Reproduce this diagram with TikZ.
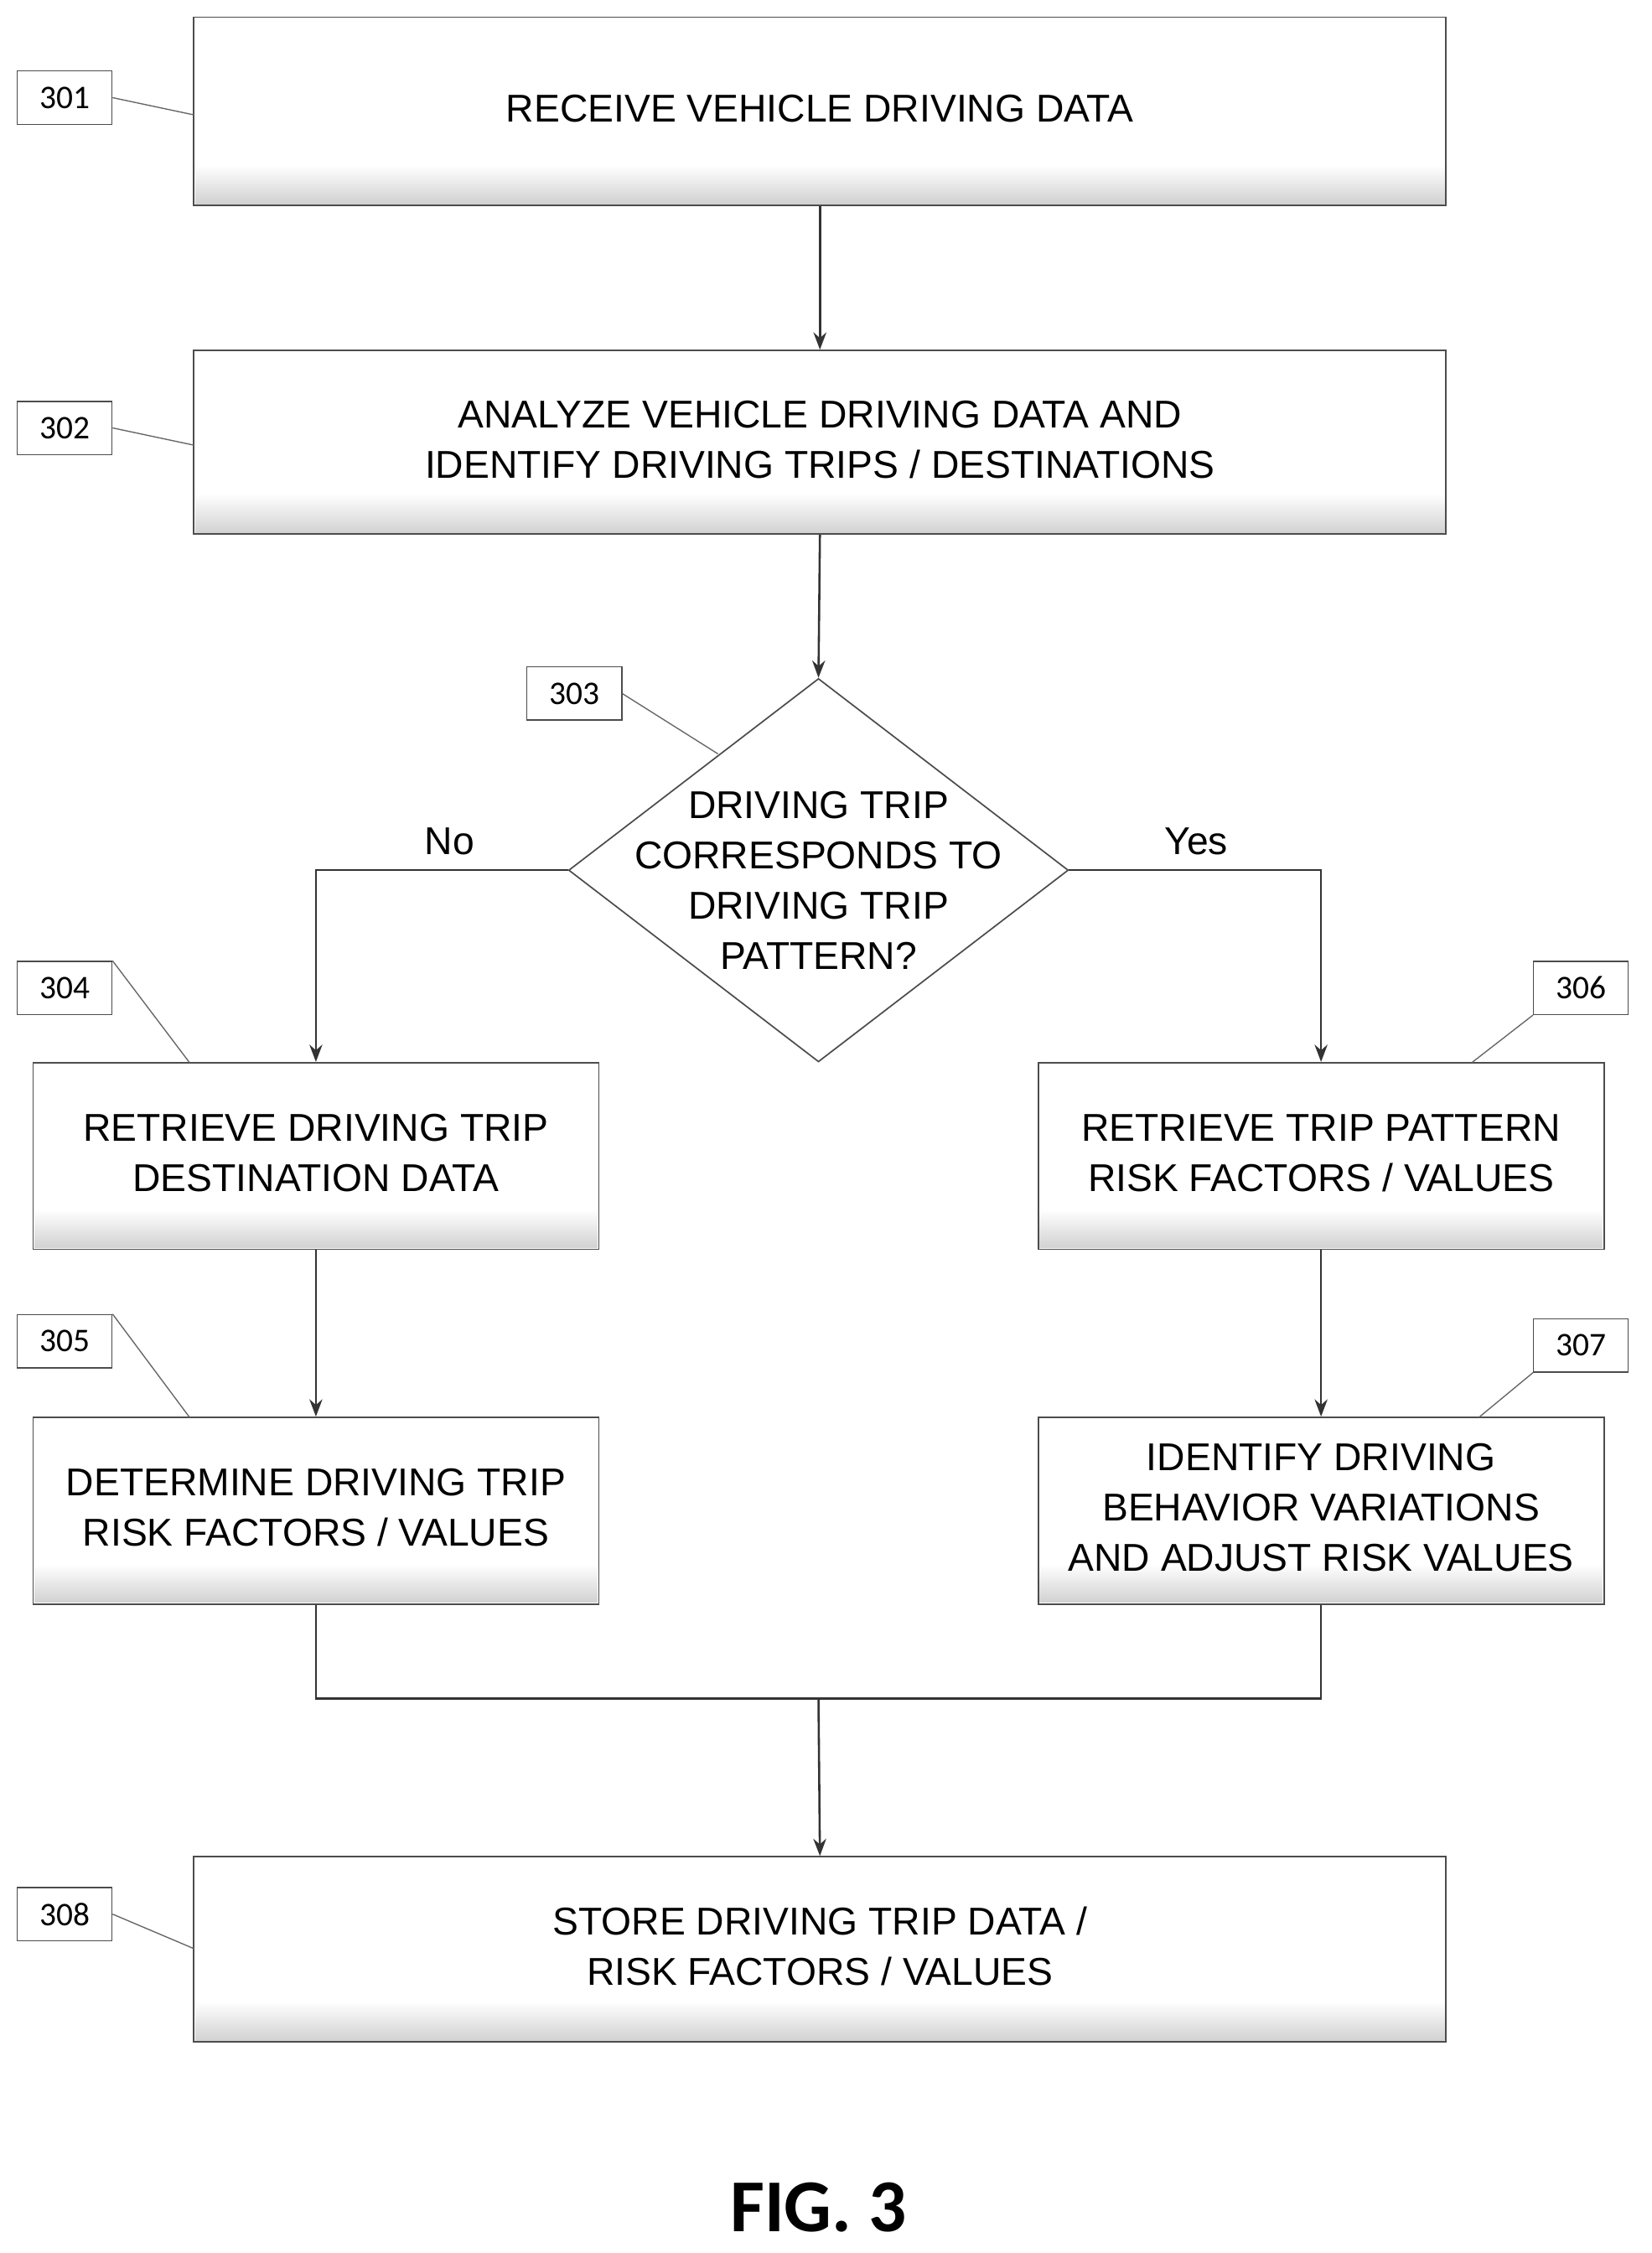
\documentclass[tikz,border=0pt]{standalone}
\usepackage{fontspec}
\setmainfont{Liberation Sans}
\newfontfamily\lab{Carlito}
\usetikzlibrary{shapes.geometric,arrows.meta}
\begin{document}
\begin{tikzpicture}[x=1pt,y=-1pt,
  box/.style={draw=black!70,line width=1pt,fill=white,align=center,font=\fontsize{27}{35}\selectfont,inner sep=0pt},
  lbl/.style={draw=black!70,line width=0.8pt,fill=white,minimum width=66pt,minimum height=37pt,inner sep=0pt,font=\lab\fontsize{23}{26}\selectfont},
  lead/.style={draw=black!60,line width=0.8pt},
  arr/.style={draw=black!80,line width=1.5pt,-{Stealth[length=12pt,width=9pt]}},
  ln/.style={draw=black!80,line width=1.5pt}]
\useasboundingbox (0,0) rectangle (1150,1569);
\newcommand{\mybox}[6]{% name x1 y1 x2 y2 text
  \node[box,minimum width=#4-#2,minimum height=#5-#3] (#1) at ({(#2+#4)/2},{(#3+#5)/2}) {};
  \shade[top color=white,bottom color=black!18] (#2+1,#5-28) rectangle (#4-1,#5-1);
  \node[align=center,font=\fontsize{27}{35}\selectfont] at ({(#2+#4)/2},{(#3+#5)/2-2}) {#6};}
\mybox{b1}{135}{12}{1007}{143}{RECEIVE VEHICLE DRIVING DATA}
\mybox{b2}{135}{244}{1007}{372}{ANALYZE VEHICLE DRIVING DATA AND\\IDENTIFY DRIVING TRIPS / DESTINATIONS}
\mybox{b4}{23}{740}{417}{870}{RETRIEVE DRIVING TRIP\\DESTINATION DATA}
\mybox{b6}{723}{740}{1117}{870}{RETRIEVE TRIP PATTERN\\RISK FACTORS / VALUES}
\mybox{b5}{23}{987}{417}{1117}{DETERMINE DRIVING TRIP\\RISK FACTORS / VALUES}
\mybox{b7}{723}{987}{1117}{1117}{IDENTIFY DRIVING\\BEHAVIOR VARIATIONS\\AND ADJUST RISK VALUES}
\mybox{b8}{135}{1293}{1007}{1422}{STORE DRIVING TRIP DATA /\\RISK FACTORS / VALUES}
\node[diamond,draw=black!70,line width=1pt,aspect=1.3,minimum width=348pt,minimum height=267pt,inner sep=0pt] (d) at (570,606) {};
\node[align=center,font=\fontsize{27}{35}\selectfont] at (570,613) {DRIVING TRIP\\CORRESPONDS TO\\DRIVING TRIP\\PATTERN?};
\draw[arr] (b1.south) -- (b2.north);
\draw[arr] (b2.south) -- (d.north);
\draw[arr] (d.west) -| (b4.north);
\draw[arr] (d.east) -| (b6.north);
\draw[arr] (b4.south) -- (b5.north);
\draw[arr] (b6.south) -- (b7.north);
\coordinate (m) at (570,1183);
\draw[ln] (b5.south) |- (m) -| (b7.south);
\draw[arr] (m) -- (b8.north);
\node[font=\fontsize{27}{30}\selectfont] (no) at (313,586) {No};
\node[font=\fontsize{27}{30}\selectfont] (yes) at (833,586) {Yes};
\node[lbl] (l1) at (45,68) {301};
\node[lbl] (l2) at (45,298) {302};
\node[lbl] (l3) at (400,483) {303};
\node[lbl] (l4) at (45,688) {304};
\node[lbl] (l6) at (1101,688) {306};
\node[lbl] (l5) at (45,934) {305};
\node[lbl] (l7) at (1101,937) {307};
\node[lbl] (l8) at (45,1333) {308};
\coordinate (c1) at (135,80); \coordinate (c2) at (135,310);
\coordinate (c3) at (500,525); \coordinate (c4) at (132,740);
\coordinate (c6) at (1025,740); \coordinate (c5) at (132,987);
\coordinate (c7) at (1030,987); \coordinate (c8) at (135,1357);
\draw[lead] (l1.east) -- (c1); \draw[lead] (l2.east) -- (c2);
\draw[lead] (l3.east) -- (c3); \draw[lead] (l4.north east) ++(0,0) -- (c4);
\draw[lead] (l6.south west) -- (c6); \draw[lead] (l5.north east) -- (c5);
\draw[lead] (l7.south west) -- (c7); \draw[lead] (l8.east) -- (c8);
\node[font=\lab\bfseries\fontsize{52}{56}\selectfont] (fig) at (570,1537) {FIG. 3};
\end{tikzpicture}
\end{document}
